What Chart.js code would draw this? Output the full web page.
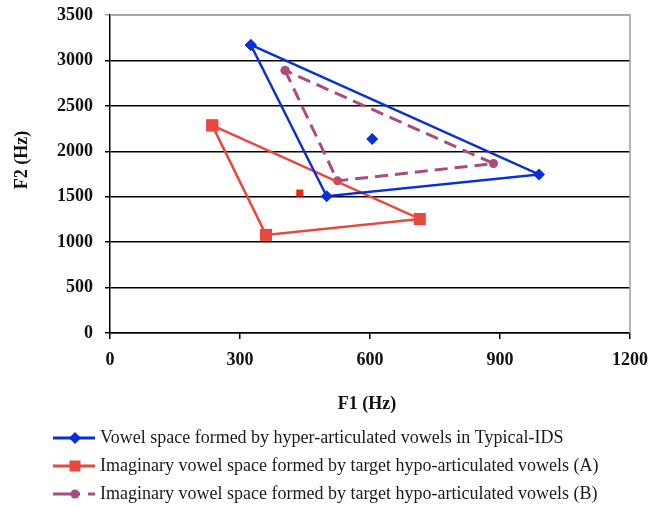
<!DOCTYPE html>
<html>
<head>
<meta charset="utf-8">
<script src="https://cdn.jsdelivr.net/npm/chart.js@4.4.0/dist/chart.umd.min.js"></script>
<style>
  html, body { margin: 0; padding: 0; background: #fff; }
  #wrap { width: 649px; height: 506px; position: relative; }
</style>
</head>
<body>
<div id="wrap"><canvas id="vowelChart"></canvas></div>
<script>
// F1 / F2 corners of each vowel triangle (closed: first point repeated)
const hyperF1 = [325, 500, 990, 325];
const hyperF2 = [3170, 1505, 1745, 3170];
const hyperMean = [605, 2135];

const hypoAF1 = [236, 360, 715, 236];
const hypoAF2 = [2285, 1080, 1255, 2285];
const hypoAMean = [438, 1540];

const hypoBF1 = [404, 525, 885, 404];
const hypoBF2 = [2890, 1675, 1865, 2890];

const xTicks = [0, 300, 600, 900, 1200];
const yTicks = [0, 500, 1000, 1500, 2000, 2500, 3000, 3500];

const seriesLabels = [
    'Vowel space formed by hyper-articulated vowels in Typical-IDS',
    'Imaginary vowel space formed by target hypo-articulated vowels (A)',
    'Imaginary vowel space formed by target hypo-articulated vowels (B)'
];

const BLUE = '#0a2fd8';
const RED = '#e8483e';
const PURPLE = '#aa4c80';
const SERIF = "'Liberation Serif', 'Times New Roman', serif";

// corners + a gap + the mean point
function buildPoints(f1, f2, mean) {
    const pts = f1.map((x, i) => ({ x: x, y: f2[i] }));
    if (mean) {
        pts.push({ x: mean[0], y: null });
        pts.push({ x: mean[0], y: mean[1] });
    }
    return pts;
}

const legendPlugin = {
    id: 'customLegend',
    afterDraw(chart) {
        const ctx = chart.ctx;
        const area = chart.chartArea;
        ctx.save();
        // plot border (top / right are grey)
        ctx.strokeStyle = '#a0a0a0';
        ctx.lineWidth = 1.5;
        ctx.beginPath();
        ctx.moveTo(area.left, area.top);
        ctx.lineTo(area.right, area.top);
        ctx.lineTo(area.right, area.bottom);
        ctx.stroke();

        // axis titles
        ctx.fillStyle = '#111';
        ctx.font = 'bold 18px ' + SERIF;
        ctx.textAlign = 'center';
        ctx.textBaseline = 'middle';
        ctx.fillText('F1 (Hz)', 367, 404);
        ctx.save();
        ctx.translate(22, 160);
        ctx.rotate(-Math.PI / 2);
        ctx.fillText('F2 (Hz)', 0, 0);
        ctx.restore();

        // legend
        const rows = [438, 466, 494];
        chart.data.datasets.forEach((ds, i) => {
            const y = rows[i];
            ctx.strokeStyle = ds.borderColor;
            ctx.lineWidth = 3;
            ctx.setLineDash(ds.legendDash || []);
            ctx.beginPath();
            ctx.moveTo(53, y);
            ctx.lineTo(95, y);
            ctx.stroke();
            ctx.setLineDash([]);
            ctx.fillStyle = ds.borderColor;
            const r = ds.legendRadius;
            ctx.beginPath();
            if (ds.pointStyle === 'rectRot') {
                ctx.moveTo(75, y - r); ctx.lineTo(75 + r, y); ctx.lineTo(75, y + r); ctx.lineTo(75 - r, y);
                ctx.closePath();
            } else if (ds.pointStyle === 'rect') {
                ctx.rect(75 - r, y - r, 2 * r, 2 * r);
            } else {
                ctx.arc(75, y, r, 0, Math.PI * 2);
            }
            ctx.fill();
            ctx.fillStyle = '#1a1a1a';
            ctx.font = '18px ' + SERIF;
            ctx.textAlign = 'left';
            ctx.fillText(ds.label, 100, y);
        });
        ctx.restore();
    }
};

const ctx = document.getElementById('vowelChart').getContext('2d');
const vowelChart = new Chart(ctx, {
    type: 'scatter',
    data: {
        datasets: [{
            label: seriesLabels[0],
            data: buildPoints(hyperF1, hyperF2, hyperMean),
            showLine: true, spanGaps: false,
            borderColor: BLUE, backgroundColor: BLUE, borderWidth: 2.5,
            pointStyle: 'rectRot', pointRadius: [6, 6, 6, 6, 0, 6], legendRadius: 6,
            pointBorderWidth: 0
        }, {
            label: seriesLabels[1],
            data: buildPoints(hypoAF1, hypoAF2, hypoAMean),
            showLine: true, spanGaps: false,
            borderColor: RED, backgroundColor: [RED, RED, RED, RED, RED, '#e52a12'], borderWidth: 2.5,
            pointStyle: 'rect', pointRadius: [8.5, 8.5, 8.5, 8.5, 0, 5], legendRadius: 5.5,
            pointBorderWidth: 0
        }, {
            label: seriesLabels[2],
            data: buildPoints(hypoBF1, hypoBF2),
            showLine: true,
            borderColor: PURPLE, backgroundColor: PURPLE, borderWidth: 3, borderDash: [13, 7],
            legendDash: [27, 8, 7, 20],
            pointStyle: 'circle', pointRadius: 4.5, legendRadius: 4.5,
            pointBorderWidth: 0
        }]
    },
    options: {
        responsive: true,
        maintainAspectRatio: false,
        animation: false,
        layout: { padding: { top: 15, right: 19, left: 0, bottom: 88 } },
        plugins: { legend: { display: false }, tooltip: { enabled: false } },
        scales: {
            x: {
                type: 'linear', min: 0, max: 1200,
                afterBuildTicks: s => { s.ticks = xTicks.map(v => ({ value: v })); },
                afterFit: s => { s.height = 85; s.paddingLeft = 0; s.paddingRight = 0; },
                grid: { drawOnChartArea: false, drawTicks: true, tickLength: 6, color: '#000', lineWidth: 1.5 },
                border: { display: true, color: '#000', width: 1.5 },
                ticks: {
                    color: '#111', padding: 11, maxRotation: 0,
                    font: { family: SERIF, size: 18, weight: 'bold' },
                    callback: v => String(v)
                }
            },
            y: {
                type: 'linear', min: 0, max: 3500,
                afterBuildTicks: s => { s.ticks = yTicks.map(v => ({ value: v })); },
                afterFit: s => { s.width = 110; s.paddingTop = 0; s.paddingBottom = 0; },
                grid: {
                    drawTicks: true, tickLength: 5, lineWidth: 1.5,
                    color: c => c.tick && c.tick.value === 3500 ? '#a0a0a0' : '#000'
                },
                border: { display: true, color: '#000', width: 1.5 },
                ticks: {
                    color: '#111', padding: 12,
                    font: { family: SERIF, size: 18, weight: 'bold' },
                    callback: v => String(v)
                }
            }
        }
    },
    plugins: [legendPlugin]
});
</script>
</body>
</html>
